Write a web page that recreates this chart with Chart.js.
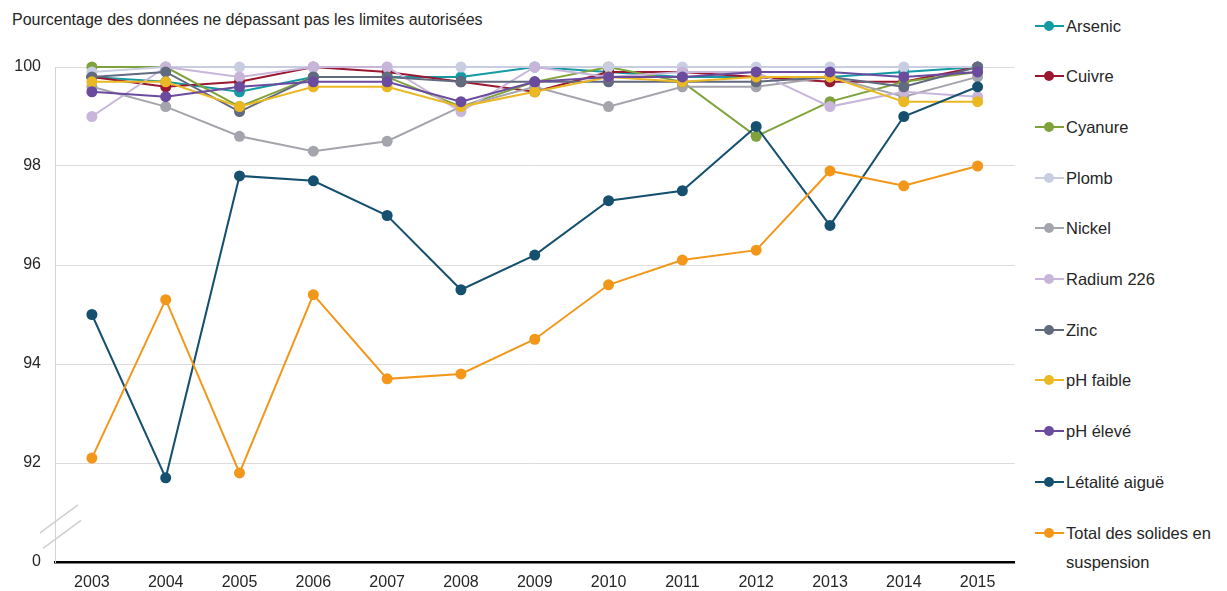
<!DOCTYPE html>
<html lang="fr">
<head>
<meta charset="UTF-8">
<title>Pourcentage des données ne dépassant pas les limites autorisées</title>
<script src="https://cdn.jsdelivr.net/npm/chart.js"></script>
<style>
    body {
        margin: 0;
        width: 1227px;
        height: 591px;
        background: #ffffff;
        font-family: 'Liberation Sans', Arial, sans-serif;
        color: #262626;
        position: relative;
        overflow: hidden;
    }

    #title {
        position: absolute;
        left: 12px;
        top: 11px;
        font-size: 16px;
    }

    #chart-box {
        position: absolute;
        left: 0;
        top: 0;
        width: 1020px;
        height: 591px;
    }

    #legend .item {
        position: absolute;
        left: 1035px;
        font-size: 16.5px;
        line-height: 29px;
        display: flex;
        align-items: flex-start;
    }

    #legend .mark {
        position: relative;
        width: 29px;
        height: 29px;
        flex: none;
    }

    #legend .mark .ln {
        position: absolute;
        left: 0;
        top: 13px;
        width: 29px;
        height: 2px;
    }

    #legend .mark .dot {
        position: absolute;
        left: 9px;
        top: 9px;
        width: 10px;
        height: 10px;
        border-radius: 50%;
    }

    #legend .txt {
        margin-left: 2px;
        width: 160px;
    }
</style>
</head>
<body>
<div id="title">Pourcentage des données ne dépassant pas les limites autorisées</div>
<div id="chart-box"><canvas id="lineChart"></canvas></div>
<div id="legend"></div>

<script>
    // données
    const years = ['2003', '2004', '2005', '2006', '2007', '2008', '2009', '2010', '2011', '2012', '2013', '2014', '2015'];

    const arsenic  = [99.8, 99.7, 99.5, 99.8, 99.8, 99.8, 100, 99.9, 99.8, 99.8, 99.8, 99.9, 100];
    const cuivre   = [99.8, 99.6, 99.7, 100, 99.9, 99.7, 99.5, 99.9, 99.9, 99.8, 99.7, 99.7, 100];
    const cyanure  = [100, 100, 99.2, 99.8, 99.8, 99.2, 99.7, 100, 99.7, 98.6, 99.3, 99.7, 99.9];
    const plomb    = [99.9, 100, 100, 100, 100, 100, 100, 100, 100, 100, 100, 100, 100];
    const nickel   = [99.6, 99.2, 98.6, 98.3, 98.5, 99.2, 99.6, 99.2, 99.6, 99.6, 99.8, 99.4, 99.8];
    const radium   = [99.0, 100, 99.8, 100, 100, 99.1, 100, 99.8, 99.9, 99.9, 99.2, 99.5, 99.4];
    const zinc     = [99.8, 99.9, 99.1, 99.8, 99.8, 99.7, 99.7, 99.7, 99.7, 99.7, 99.8, 99.6, 100];
    const phFaible = [99.7, 99.7, 99.2, 99.6, 99.6, 99.2, 99.5, 99.8, 99.7, 99.8, 99.8, 99.3, 99.3];
    const phEleve  = [99.5, 99.4, 99.6, 99.7, 99.7, 99.3, 99.7, 99.8, 99.8, 99.9, 99.9, 99.8, 99.9];
    const letalite = [95.0, 91.7, 97.8, 97.7, 97.0, 95.5, 96.2, 97.3, 97.5, 98.8, 96.8, 99.0, 99.6];
    const tss      = [92.1, 95.3, 91.8, 95.4, 93.7, 93.8, 94.5, 95.6, 96.1, 96.3, 97.9, 97.6, 98.0];

    // axe y coupé : la graduation du bas (90) est affichée comme 0
    const yTickValues = [90, 92, 94, 96, 98, 100];
    const yTickLabels = ['0', '92', '94', '96', '98', '100'];

    const seriesNames = ['Arsenic', 'Cuivre', 'Cyanure', 'Plomb', 'Nickel', 'Radium 226', 'Zinc', 'pH faible', 'pH élevé', 'Létalité aiguë', 'Total des solides en suspension'];
    const seriesData = [arsenic, cuivre, cyanure, plomb, nickel, radium, zinc, phFaible, phEleve, letalite, tss];
    const seriesColors = ['#139aa3', '#9b1730', '#7fa23c', '#c8cde2', '#a4a4ac', '#c7b6da', '#626a80', '#eab823', '#6a4b9e', '#16506f', '#f3971a'];

    // petites barres obliques de coupure sur l'axe y
    const breakMarks = {
        id: 'breakMarks',
        afterDraw(chart) {
            const ctx = chart.ctx;
            const y = chart.scales.y;
            const left = chart.chartArea.left;
            ctx.save();
            ctx.strokeStyle = '#cfcfcf';
            ctx.lineWidth = 1.5;
            [90.87, 90.56].forEach((v, i) => {
                const cy = y.getPixelForValue(v);
                const cx = left + 4 + i * 3;
                ctx.beginPath();
                ctx.moveTo(cx - 19, cy + 14);
                ctx.lineTo(cx + 19, cy - 14);
                ctx.stroke();
            });
            ctx.restore();
        }
    };

    Chart.defaults.font.family = "'Liberation Sans', Arial, sans-serif";
    Chart.defaults.font.size = 16;
    Chart.defaults.color = '#262626';

    const datasets = seriesNames.map((name, i) => ({
        label: name,
        data: seriesData[i],
        borderColor: seriesColors[i],
        backgroundColor: seriesColors[i],
        pointBackgroundColor: seriesColors[i],
        pointBorderColor: seriesColors[i],
        borderWidth: 2,
        pointRadius: 5.5,
        pointBorderWidth: 0,
        tension: 0,
        clip: false,
        order: -i
    }));

    new Chart(document.getElementById('lineChart'), {
        type: 'line',
        data: { labels: years, datasets: datasets },
        options: {
            responsive: true,
            maintainAspectRatio: false,
            animation: false,
            layout: { padding: { top: 67, right: 4, left: 0, bottom: 0 } },
            plugins: {
                legend: { display: false },
                tooltip: { enabled: false }
            },
            scales: {
                x: {
                    offset: true,
                    grid: { display: false, drawTicks: false },
                    border: { color: '#000000', width: 2.5 },
                    ticks: { padding: 11, color: '#262626' },
                    afterFit(scale) { scale.height = 29; }
                },
                y: {
                    min: 90,
                    max: 100,
                    afterBuildTicks(scale) {
                        scale.ticks = yTickValues.map(v => ({ value: v }));
                    },
                    ticks: {
                        padding: 14,
                        color: '#262626',
                        callback: (v) => yTickLabels[yTickValues.indexOf(v)]
                    },
                    grid: {
                        drawTicks: false,
                        color: (c) => c.tick && c.tick.value === 90 ? 'rgba(0,0,0,0)' : '#dcdcdc'
                    },
                    border: { color: '#d4d4d4', width: 1 },
                    afterFit(scale) { scale.width = 55; }
                }
            }
        },
        plugins: [breakMarks]
    });

    // légende à droite
    const legend = document.getElementById('legend');
    seriesNames.forEach((name, i) => {
        const item = document.createElement('div');
        item.className = 'item';
        item.style.top = (26 + i * 50.7 - 14.5) + 'px';
        item.innerHTML = '<div class="mark"><div class="ln" style="background:' + seriesColors[i] + '"></div>' +
            '<div class="dot" style="background:' + seriesColors[i] + '"></div></div>' +
            '<div class="txt">' + name + '</div>';
        legend.appendChild(item);
    });
</script>
</body>
</html>
